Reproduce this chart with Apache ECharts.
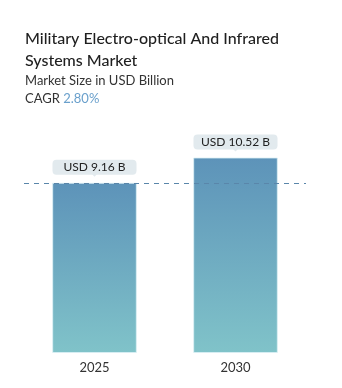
<!DOCTYPE html>
<html>
<head>
<meta charset="utf-8">
<script src="https://cdn.jsdelivr.net/npm/echarts@6/dist/echarts.min.js"></script>
<style>
  html, body { margin: 0; padding: 0; background: #fff; }
  #chart { width: 342px; height: 388px; }
</style>
</head>
<body>
<div id="chart"></div>
<script>
// Market size by year, USD billion
const years = ['2025', '2030'];
const marketSize = [9.16, 10.52];
const cagr = '2.80%';

const chart = echarts.init(document.getElementById('chart'), null, { renderer: 'canvas' });
const font = 'Lato, "Open Sans", sans-serif';

chart.setOption({
  animation: false,
  backgroundColor: '#ffffff',
  graphic: [
    {
      type: 'text', left: 25, top: 28,
      style: {
        text: 'Military Electro-optical And Infrared\nSystems Market',
        font: '500 16px ' + font, fill: '#1f1f1f', lineHeight: 22
      }
    },
    {
      type: 'text', left: 25, top: 74,
      style: { text: 'Market Size in USD Billion', font: '13px ' + font, fill: '#333' }
    },
    {
      type: 'text', left: 25, top: 92,
      style: {
        text: '{a|CAGR }{b|' + cagr + '}',
        rich: {
          a: { font: '13px ' + font, fill: '#333' },
          b: { font: '13px ' + font, fill: '#6aa0cc' }
        }
      }
    }
  ],
  grid: { left: 24, width: 282, top: 130, bottom: 35 },
  xAxis: {
    type: 'category',
    data: years,
    axisLine: { show: false },
    axisTick: { show: false },
    axisLabel: { color: '#333', fontSize: 13, fontFamily: font, margin: 8 }
  },
  yAxis: {
    type: 'value', min: 0, max: 12,
    show: false, splitLine: { show: false }
  },
  series: [{
    type: 'bar',
    data: marketSize,
    barWidth: '60%',
    itemStyle: {
      color: new echarts.graphic.LinearGradient(0, 0, 0, 1, [
        { offset: 0, color: '#5d93b9' },
        { offset: 1, color: '#80c3c9' }
      ]),
      borderColor: 'rgba(220,240,245,0.8)',
      borderWidth: 1
    },
    label: {
      show: true,
      position: 'top',
      distance: 8,
      formatter: p => 'USD ' + p.value + ' B',
      color: '#222',
      fontSize: 12,
      fontFamily: font,
      backgroundColor: '#e2eaee',
      borderRadius: 4,
      width: 84,
      height: 15,
      lineHeight: 15,
      align: 'center',
      padding: 0
    },
    markPoint: {
      silent: true,
      symbol: 'triangle',
      symbolRotate: 180,
      symbolSize: [8, 4],
      symbolOffset: [0, -8],
      itemStyle: { color: '#e2eaee' },
      label: { show: false },
      data: marketSize.map((v, i) => ({ coord: [i, v] }))
    },
    markLine: {
      silent: true,
      symbol: 'none',
      label: { show: false },
      lineStyle: { color: '#5a86aa', type: [5, 5], width: 1 },
      data: [{ yAxis: marketSize[0] }]
    }
  }]
});
</script>
</body>
</html>
